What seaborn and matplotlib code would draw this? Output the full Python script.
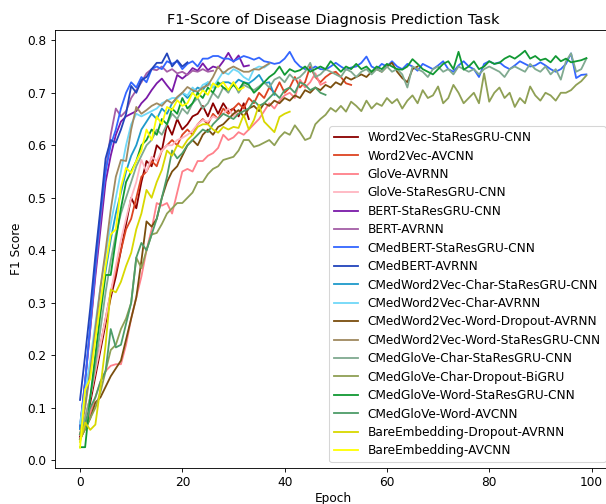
import numpy as np
import pandas as pd
import matplotlib
matplotlib.use("Agg")
import matplotlib.pyplot as plt
import seaborn as sns

# ---------------- data ----------------
models = [
    "Word2Vec-StaResGRU-CNN", "Word2Vec-AVCNN", "GloVe-AVRNN", "GloVe-StaResGRU-CNN",
    "BERT-StaResGRU-CNN", "BERT-AVRNN", "CMedBERT-StaResGRU-CNN", "CMedBERT-AVRNN",
    "CMedWord2Vec-Char-StaResGRU-CNN", "CMedWord2Vec-Char-AVRNN",
    "CMedWord2Vec-Word-Dropout-AVRNN", "CMedWord2Vec-Word-StaResGRU-CNN",
    "CMedGloVe-Char-StaResGRU-CNN", "CMedGloVe-Char-Dropout-BiGRU",
    "CMedGloVe-Word-StaResGRU-CNN", "CMedGloVe-Word-AVCNN",
    "BareEmbedding-Dropout-AVRNN", "BareEmbedding-AVCNN",
]

colors = [
    "#8B0000", "#DD4422", "#FF808A", "#FFB6C1",
    "#7A1AA8", "#A45EA6", "#3366FF", "#2244BB",
    "#1E9ACB", "#70D8F8",
    "#7A4E0E", "#A08A60",
    "#80AA90", "#8FA055",
    "#119933", "#4E9C68",
    "#D8D800", "#FFFF00",
]

w2v_staresgru_cnn = [0.045, 0.07, 0.11, 0.16, 0.21, 0.26, 0.31, 0.35, 0.40, 0.45,
                     0.50, 0.48, 0.53, 0.57, 0.56, 0.60, 0.59, 0.64, 0.62, 0.65,
                     0.63, 0.64, 0.655, 0.66, 0.675, 0.655, 0.68, 0.66, 0.68, 0.665,
                     0.67, 0.655, 0.68, 0.65]

w2v_avcnn = [0.05, 0.08, 0.12, 0.17, 0.22, 0.27, 0.32, 0.36, 0.40, 0.44,
             0.46, 0.50, 0.54, 0.55, 0.57, 0.56, 0.59, 0.60, 0.61, 0.60,
             0.62, 0.63, 0.62, 0.64, 0.65, 0.64, 0.66, 0.65, 0.67, 0.66,
             0.67, 0.68, 0.67, 0.69, 0.68, 0.70, 0.69, 0.71, 0.70, 0.72,
             0.70, 0.71, 0.73, 0.71, 0.72, 0.75, 0.73, 0.72, 0.73, 0.737,
             0.74, 0.73, 0.718, 0.715]

glove_avrnn = [0.04, 0.06, 0.09, 0.12, 0.15, 0.17, 0.18, 0.183, 0.183, 0.22,
               0.27, 0.31, 0.35, 0.40, 0.44, 0.49, 0.485, 0.49, 0.47, 0.51,
               0.55, 0.555, 0.55, 0.57, 0.57, 0.58, 0.585, 0.595, 0.62, 0.61,
               0.615, 0.625, 0.62, 0.63, 0.64, 0.65, 0.665, 0.68, 0.67, 0.685,
               0.695, 0.70, 0.69, 0.725, 0.71, 0.72, 0.737, 0.715, 0.72]

glove_staresgru_cnn = [0.05, 0.08, 0.12, 0.17, 0.22, 0.27, 0.32, 0.37, 0.42, 0.46,
                       0.50, 0.53, 0.572, 0.55, 0.578, 0.57, 0.59, 0.60, 0.60, 0.61,
                       0.614, 0.62, 0.628, 0.64, 0.648, 0.645, 0.655, 0.65, 0.66, 0.67,
                       0.655, 0.665]

bert_staresgru_cnn = [0.065, 0.15, 0.25, 0.35, 0.44, 0.53, 0.58, 0.62, 0.645, 0.655,
                      0.66, 0.665, 0.68, 0.69, 0.705, 0.718, 0.727, 0.714, 0.702, 0.734,
                      0.727, 0.735, 0.747, 0.742, 0.756, 0.743, 0.75, 0.747, 0.76, 0.776,
                      0.759, 0.771, 0.75, 0.752]

bert_avrnn = [0.06, 0.15, 0.25, 0.36, 0.46, 0.55, 0.62, 0.67, 0.655, 0.665,
              0.69, 0.705, 0.72, 0.737, 0.745, 0.743, 0.75, 0.74, 0.745, 0.737,
              0.74, 0.734, 0.742, 0.74, 0.745, 0.74, 0.742]

cmedbert_staresgru_cnn = [0.06, 0.15, 0.26, 0.37, 0.47, 0.55, 0.60, 0.63, 0.67, 0.70,
                          0.72, 0.71, 0.73, 0.72, 0.745, 0.75, 0.745, 0.76, 0.755, 0.76,
                          0.745, 0.755, 0.76, 0.75, 0.765, 0.765, 0.77, 0.77, 0.765, 0.765,
                          0.76, 0.765, 0.77, 0.767, 0.763, 0.767, 0.76, 0.758, 0.755, 0.757,
                          0.765, 0.778, 0.76, 0.75, 0.745, 0.744, 0.75, 0.745, 0.744, 0.75,
                          0.757, 0.75, 0.744, 0.748, 0.75, 0.757, 0.769, 0.75, 0.745, 0.755,
                          0.75, 0.76, 0.75, 0.745, 0.755, 0.75, 0.742, 0.755, 0.75, 0.745,
                          0.752, 0.76, 0.745, 0.74, 0.752, 0.76, 0.75, 0.745, 0.73, 0.755,
                          0.76, 0.755, 0.758, 0.75, 0.745, 0.752, 0.76, 0.755, 0.75, 0.752,
                          0.758, 0.752, 0.745, 0.74, 0.745, 0.755, 0.775, 0.728, 0.734, 0.735]

cmedbert_avrnn = [0.115, 0.20, 0.29, 0.39, 0.48, 0.575, 0.61, 0.605, 0.63, 0.66,
                  0.713, 0.70, 0.724, 0.73, 0.745, 0.757, 0.757, 0.775, 0.75, 0.762,
                  0.75, 0.758]

cmedw2v_char_staresgru_cnn = [0.06, 0.11, 0.17, 0.24, 0.30, 0.36, 0.42, 0.47, 0.51, 0.55,
                              0.58, 0.60, 0.63, 0.645, 0.66, 0.65, 0.67, 0.66, 0.68, 0.69,
                              0.70, 0.69, 0.70, 0.71, 0.705, 0.72, 0.71, 0.715, 0.72, 0.72,
                              0.715, 0.725, 0.72, 0.718, 0.725, 0.734, 0.718, 0.72, 0.696]

cmedw2v_char_avrnn = [0.07, 0.13, 0.19, 0.26, 0.33, 0.39, 0.45, 0.50, 0.55, 0.60,
                      0.64, 0.66, 0.655, 0.66, 0.665, 0.67, 0.68, 0.685, 0.69, 0.69,
                      0.70, 0.695, 0.71, 0.70, 0.715, 0.72, 0.71, 0.725, 0.74, 0.735,
                      0.745, 0.74, 0.73, 0.724, 0.745, 0.75, 0.748, 0.755]

cmedw2v_word_dropout_avrnn = [0.04, 0.06, 0.08, 0.11, 0.12, 0.14, 0.16, 0.175, 0.19, 0.23,
                              0.27, 0.31, 0.38, 0.455, 0.445, 0.46, 0.50, 0.53, 0.55, 0.56,
                              0.58, 0.60, 0.61, 0.60, 0.62, 0.63, 0.62, 0.635, 0.64, 0.65,
                              0.66, 0.667, 0.655, 0.67, 0.675, 0.665, 0.68, 0.675, 0.685, 0.68,
                              0.69, 0.685, 0.695, 0.69, 0.705, 0.70, 0.71, 0.705, 0.715, 0.71,
                              0.72, 0.715, 0.73, 0.725, 0.73, 0.735, 0.73, 0.74, 0.745, 0.74,
                              0.75, 0.757, 0.74, 0.728, 0.72, 0.745, 0.75]

cmedw2v_word_staresgru_cnn = [0.05, 0.10, 0.17, 0.25, 0.33, 0.40, 0.477, 0.54, 0.572, 0.57,
                              0.63, 0.673, 0.66, 0.667, 0.675, 0.68, 0.675, 0.686, 0.68, 0.692,
                              0.70, 0.711, 0.705, 0.702, 0.71, 0.714, 0.73, 0.75, 0.737, 0.745,
                              0.75, 0.745, 0.74, 0.74, 0.745, 0.744, 0.75, 0.756]

cmedglove_char_staresgru_cnn = [0.05, 0.08, 0.12, 0.18, 0.25, 0.32, 0.38, 0.43, 0.47, 0.50,
                                0.53, 0.56, 0.58, 0.60, 0.61, 0.63, 0.62, 0.64, 0.66, 0.65,
                                0.67, 0.66, 0.68, 0.69, 0.67, 0.68, 0.70, 0.69, 0.71, 0.70,
                                0.72, 0.70, 0.715, 0.71, 0.705, 0.712, 0.72, 0.71, 0.725, 0.73,
                                0.72, 0.735, 0.725, 0.73, 0.74, 0.757, 0.73, 0.735, 0.745, 0.74,
                                0.735, 0.73, 0.745, 0.74, 0.73, 0.74, 0.745, 0.735, 0.745, 0.74,
                                0.75, 0.74, 0.745, 0.735, 0.71, 0.75, 0.745, 0.74, 0.73, 0.745,
                                0.75, 0.74, 0.745, 0.735, 0.75, 0.745, 0.74, 0.745, 0.735, 0.745,
                                0.75, 0.745, 0.74, 0.73, 0.745, 0.75, 0.745, 0.74, 0.755, 0.745,
                                0.74, 0.75, 0.735, 0.745, 0.725, 0.76, 0.775, 0.74, 0.745, 0.765]

cmedglove_char_dropout_bigru = [0.04, 0.06, 0.08, 0.10, 0.13, 0.17, 0.21, 0.22, 0.25, 0.27,
                                0.30, 0.386, 0.366, 0.40, 0.43, 0.433, 0.45, 0.47, 0.48, 0.49,
                                0.49, 0.50, 0.51, 0.53, 0.53, 0.545, 0.555, 0.56, 0.572, 0.575,
                                0.578, 0.59, 0.61, 0.61, 0.597, 0.60, 0.605, 0.61, 0.60, 0.615,
                                0.625, 0.62, 0.638, 0.625, 0.61, 0.614, 0.64, 0.65, 0.658, 0.671,
                                0.664, 0.675, 0.664, 0.683, 0.675, 0.665, 0.685, 0.67, 0.68, 0.675,
                                0.69, 0.68, 0.688, 0.67, 0.685, 0.695, 0.68, 0.705, 0.69, 0.695,
                                0.712, 0.68, 0.69, 0.715, 0.70, 0.68, 0.69, 0.70, 0.68, 0.737,
                                0.683, 0.70, 0.71, 0.69, 0.70, 0.673, 0.69, 0.68, 0.712, 0.695,
                                0.685, 0.70, 0.695, 0.685, 0.70, 0.70, 0.705, 0.715, 0.722, 0.733]

cmedglove_word_staresgru_cnn = [0.025, 0.025, 0.12, 0.20, 0.28, 0.353, 0.353, 0.42, 0.48, 0.53,
                                0.55, 0.57, 0.60, 0.61, 0.63, 0.62, 0.65, 0.64, 0.67, 0.66,
                                0.69, 0.67, 0.68, 0.70, 0.69, 0.71, 0.70, 0.72, 0.71, 0.705,
                                0.715, 0.705, 0.72, 0.715, 0.70, 0.709, 0.72, 0.73, 0.737, 0.75,
                                0.734, 0.745, 0.74, 0.743, 0.75, 0.74, 0.745, 0.75, 0.745, 0.76,
                                0.75, 0.74, 0.75, 0.745, 0.755, 0.745, 0.75, 0.74, 0.75, 0.745,
                                0.755, 0.75, 0.745, 0.744, 0.75, 0.764, 0.755, 0.745, 0.74, 0.735,
                                0.745, 0.755, 0.76, 0.745, 0.778, 0.744, 0.75, 0.76, 0.745, 0.75,
                                0.76, 0.755, 0.757, 0.765, 0.77, 0.765, 0.772, 0.78, 0.765, 0.77,
                                0.762, 0.765, 0.758, 0.77, 0.76, 0.765, 0.758, 0.76, 0.762, 0.766]

cmedglove_word_avcnn = [0.05, 0.07, 0.10, 0.12, 0.15, 0.17, 0.25, 0.215, 0.22, 0.26,
                        0.30, 0.386, 0.414, 0.40, 0.43, 0.46, 0.50, 0.54, 0.59, 0.575,
                        0.585, 0.60, 0.61, 0.62, 0.63, 0.625, 0.64, 0.65, 0.66, 0.655,
                        0.65, 0.66, 0.665, 0.67, 0.685, 0.675, 0.68, 0.69, 0.70, 0.69,
                        0.705, 0.71, 0.70, 0.72, 0.715, 0.705, 0.71, 0.70, 0.696]

bare_dropout_avrnn = [0.035, 0.072, 0.058, 0.068, 0.14, 0.22, 0.325, 0.32, 0.34, 0.37,
                      0.395, 0.44, 0.47, 0.515, 0.50, 0.53, 0.553, 0.59, 0.58, 0.60,
                      0.595, 0.61, 0.62, 0.635, 0.64, 0.64, 0.63, 0.624, 0.635, 0.63,
                      0.635, 0.633, 0.658, 0.63, 0.648, 0.677, 0.645, 0.635, 0.625, 0.654,
                      0.66, 0.664]

bare_avcnn = [0.024, 0.135, 0.155, 0.23, 0.30, 0.37, 0.43, 0.44, 0.52, 0.557,
              0.547, 0.57, 0.59, 0.63, 0.61, 0.655, 0.64, 0.673, 0.667, 0.686,
              0.675, 0.68, 0.70, 0.69, 0.705, 0.696, 0.718, 0.711, 0.72, 0.705,
              0.72, 0.705, 0.71]

series = [
    w2v_staresgru_cnn, w2v_avcnn, glove_avrnn, glove_staresgru_cnn,
    bert_staresgru_cnn, bert_avrnn, cmedbert_staresgru_cnn, cmedbert_avrnn,
    cmedw2v_char_staresgru_cnn, cmedw2v_char_avrnn,
    cmedw2v_word_dropout_avrnn, cmedw2v_word_staresgru_cnn,
    cmedglove_char_staresgru_cnn, cmedglove_char_dropout_bigru,
    cmedglove_word_staresgru_cnn, cmedglove_word_avcnn,
    bare_dropout_avrnn, bare_avcnn,
]

# ---------------- build long table ----------------
rows = []
for name, vals in zip(models, series):
    for ep, v in enumerate(vals):
        rows.append({"Epoch": ep, "F1 Score": v, "Model": name})
df = pd.DataFrame(rows)

# ---------------- figure ----------------
plt.rcParams["font.size"] = 11
plt.rcParams["xtick.major.size"] = 3.8
plt.rcParams["ytick.major.size"] = 3.8

DPI = 79
fig = plt.figure(figsize=(7.671, 6.38), dpi=DPI)
ax = fig.add_axes([54.7 / 606, (504 - 468.3) / 504, 557 / 606, 438 / 504])

sns.lineplot(data=df, x="Epoch", y="F1 Score", hue="Model", hue_order=models,
             palette=dict(zip(models, colors)), estimator=None, linewidth=1.65,
             ax=ax)

ax.set_xlim(-4.95, 103.95)
ax.set_ylim(-0.0152, 0.819)
ax.set_xticks([0, 20, 40, 60, 80, 100])
ax.set_yticks([0.0, 0.1, 0.2, 0.3, 0.4, 0.5, 0.6, 0.7, 0.8])
ax.set_xlabel("Epoch", labelpad=2.5)
ax.set_ylabel("F1 Score")
ax.set_title("F1-Score of Disease Diagnosis Prediction Task")

handles, labels = ax.get_legend_handles_labels()
ax.legend(handles, labels, loc="lower right", labelspacing=0.45)

fig.savefig("out.png", dpi=DPI)
